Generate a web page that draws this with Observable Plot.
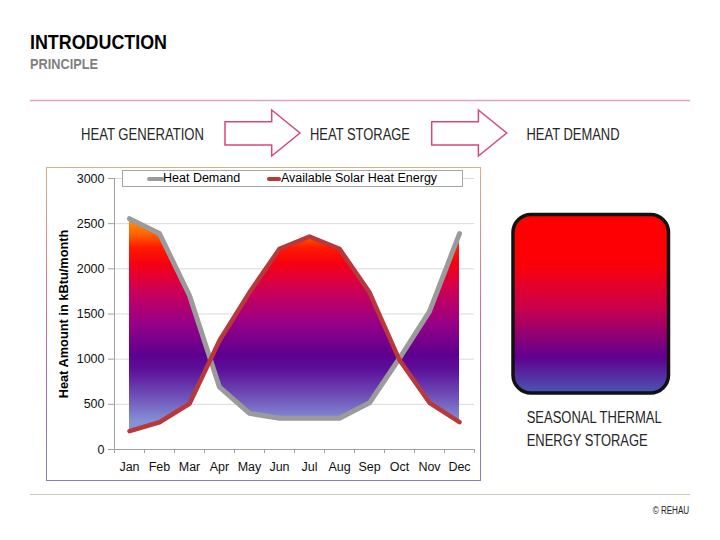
<!DOCTYPE html>
<html><head><meta charset="utf-8">
<script src="https://cdn.jsdelivr.net/npm/d3@7"></script>
<script src="https://cdn.jsdelivr.net/npm/@observablehq/plot@0.6"></script>
<style>
html,body{margin:0;padding:0;background:#fff;}
#page{position:relative;width:720px;height:540px;overflow:hidden;}
#deco{position:absolute;left:0;top:0;}
#chartWrap{position:absolute;left:46px;top:167px;width:435px;height:314px;}
#chartBorder{position:absolute;left:46px;top:167px;width:435px;height:314px;box-sizing:border-box;border:1.5px solid;border-image:linear-gradient(to bottom,#d8b088 0%,#e2868a 25%,#d46a98 50%,#a070bc 75%,#8480c8 100%) 1;pointer-events:none;}
#legend{position:absolute;left:122px;top:170px;width:341px;height:17px;box-sizing:border-box;border:1px solid #a6a6a6;background:#fff;font-family:"Liberation Sans",Arial,sans-serif;font-size:12.5px;color:#000;}
.lg{position:absolute;top:0;height:15px;line-height:15px;white-space:nowrap;}
.sw{position:absolute;top:5.5px;height:4px;border-radius:2px;}
</style></head><body>
<div id="page">
<svg id="deco" width="720" height="540"></svg>
<div id="chartWrap"></div>
<div id="chartBorder"></div>
<div id="legend"></div>
</div>
<script>
// ---- data ----
const months = ["Jan","Feb","Mar","Apr","May","Jun","Jul","Aug","Sep","Oct","Nov","Dec"];
const heatDemand = [2555, 2390, 1705, 690, 400, 345, 345, 345, 517, 1010, 1530, 2390];
const solarHeat  = [ 203,  302,  506, 1207, 1740, 2222, 2358, 2222, 1740, 990, 517, 302];
const yTicks = [0, 500, 1000, 1500, 2000, 2500, 3000];
const seriesNames = ["Heat Demand", "Available Solar Heat Energy"];
const seriesColors = ["#9b9b9b", "#b8383c"];
const yAxisTitle = "Heat Amount in kBtu/month";
const flowLabels = ["HEAT GENERATION", "HEAT STORAGE", "HEAT DEMAND"];
const storageLabel = ["SEASONAL THERMAL", "ENERGY STORAGE"];
const titleText = "INTRODUCTION";
const subtitleText = "PRINCIPLE";
const footerText = "© REHAU";

// ---- chart ----
const idx = d3.range(months.length);
const rows = idx.map(i => ({i, month: months[i], demand: heatDemand[i], solar: solarHeat[i]}));

const chart = Plot.plot({
  width: 435, height: 314,
  marginLeft: 68, marginRight: 7, marginTop: 11, marginBottom: 32,
  style: {fontFamily: '"Liberation Sans", Arial, sans-serif', fontSize: "12.5px", color: "#000", background: "transparent", overflow: "visible"},
  x: {type: "linear", domain: [-0.5, months.length - 0.5]},
  y: {domain: [0, 3000]},
  marks: [
    Plot.gridY(yTicks.filter(v => v > 0), {stroke: "#d9d9d9", strokeOpacity: 1}),
    Plot.areaY(rows, {x: "i", y1: "demand", y2: "solar", fill: "url(#heatGrad)"}),
    Plot.lineY(rows, {x: "i", y: "demand", stroke: seriesColors[0], strokeWidth: 5, strokeLinejoin: "round"}),
    Plot.lineY(rows, {x: "i", y: "solar", stroke: seriesColors[1], strokeWidth: 4.5, strokeLinejoin: "round"}),
    Plot.ruleX([-0.5], {stroke: "#a0a0a0"}),
    Plot.ruleY([0], {stroke: "#a0a0a0"}),
    Plot.axisY({ticks: yTicks, tickSize: 6, tickPadding: 4, tickFormat: d => String(d), label: null, stroke: "#a0a0a0", fill: "#111"}),
    Plot.axisX({ticks: idx, tickSize: 0, tickPadding: 13, tickFormat: i => months[i], label: null, fill: "#111"}),
    Plot.axisX({ticks: d3.range(months.length + 1).map(k => k - 0.5), tickSize: 4, tickFormat: () => "", label: null, stroke: "#a0a0a0"}),
    Plot.text([yAxisTitle], {frameAnchor: "left", dx: -51, rotate: -90, textAnchor: "middle", fontWeight: "bold", fontSize: 12.8, fill: "#000"})
  ]
});
document.getElementById("chartWrap").appendChild(chart);

// gradient for the area, keyed to y values
const ys = chart.scale("y");
const gradStops = [[2560,"#ff9800"],[2380,"#ff6400"],[2230,"#ff1a00"],[2050,"#f60012"],[1750,"#cc0058"],[1400,"#980086"],[1050,"#5e008e"],[880,"#5c109a"],[650,"#6a42b0"],[300,"#8492d8"]];
const defs = d3.select(chart).insert("defs", ":first-child");
const lg = defs.append("linearGradient").attr("id", "heatGrad").attr("gradientUnits", "userSpaceOnUse")
  .attr("x1", 0).attr("x2", 0).attr("y1", ys.apply(3000)).attr("y2", ys.apply(0));
gradStops.forEach(([v, c]) => lg.append("stop").attr("offset", 1 - v / 3000).attr("stop-color", c));

// legend
const legend = d3.select("#legend");
const lgPos = [{sw: 24, swW: 17, tx: 40}, {sw: 144, swW: 14, tx: 158}];
seriesNames.forEach((n, k) => {
  legend.append("div").attr("class", "sw").style("left", lgPos[k].sw + "px").style("width", lgPos[k].swW + "px").style("background", seriesColors[k]);
  legend.append("div").attr("class", "lg").style("left", lgPos[k].tx + "px").text(n);
});

// ---- decorations ----
const deco = d3.select("#deco");
const narrow = '"Liberation Sans Narrow","Arial Narrow","Liberation Sans",Arial,sans-serif';
const dd = deco.append("defs");
const bg = dd.append("linearGradient").attr("id", "boxGrad").attr("x1", 0).attr("x2", 0).attr("y1", 0).attr("y2", 1);
[[0,"#ff0000"],[0.28,"#fc0008"],[0.53,"#c8004e"],[0.8,"#600090"],[1,"#4a56b2"]].forEach(([o,c]) => bg.append("stop").attr("offset", o).attr("stop-color", c));

function txt(s, x, y, size, w, opts = {}) {
  return deco.append("text").attr("x", x).attr("y", y).attr("font-family", narrow).attr("font-size", size)
    .attr("font-weight", opts.bold ? "bold" : "normal").attr("fill", opts.fill || "#262626")
    .attr("textLength", w).attr("lengthAdjust", "spacingAndGlyphs").text(s);
}
txt(titleText, 30, 48.5, 21, 137, {bold: true, fill: "#000"});
txt(subtitleText, 30, 68.5, 15, 68, {bold: true, fill: "#7f7f7f"});
deco.append("line").attr("x1", 30).attr("x2", 690).attr("y1", 100.5).attr("y2", 100.5).attr("stroke", "#e4a4b8").attr("stroke-width", 1.5);
deco.append("line").attr("x1", 30).attr("x2", 690).attr("y1", 494.5).attr("y2", 494.5).attr("stroke", "#c4ccbc").attr("stroke-width", 1.2);

const flowX = [81, 310, 526.5], flowW = [123, 100, 93];
flowLabels.forEach((s, k) => txt(s, flowX[k], 140, 16, flowW[k]));
[225, 431.7].forEach(x0 => {
  deco.append("path").attr("d", `M${x0},121.7H${x0+46.7}V110L${x0+75},133L${x0+46.7},156V145H${x0}Z`)
    .attr("fill", "#fff").attr("stroke", "#d24a78").attr("stroke-width", 1.5).attr("stroke-linejoin", "miter");
});
deco.append("rect").attr("x", 513).attr("y", 214.5).attr("width", 155.5).attr("height", 178.5).attr("rx", 18)
  .attr("fill", "url(#boxGrad)").attr("stroke", "#111").attr("stroke-width", 3.5);
txt(storageLabel[0], 526.7, 423, 16, 135);
txt(storageLabel[1], 526.7, 446, 16, 121);
txt(footerText, 652.7, 514, 10, 36.5, {fill: "#222"});
</script>
</body></html>
